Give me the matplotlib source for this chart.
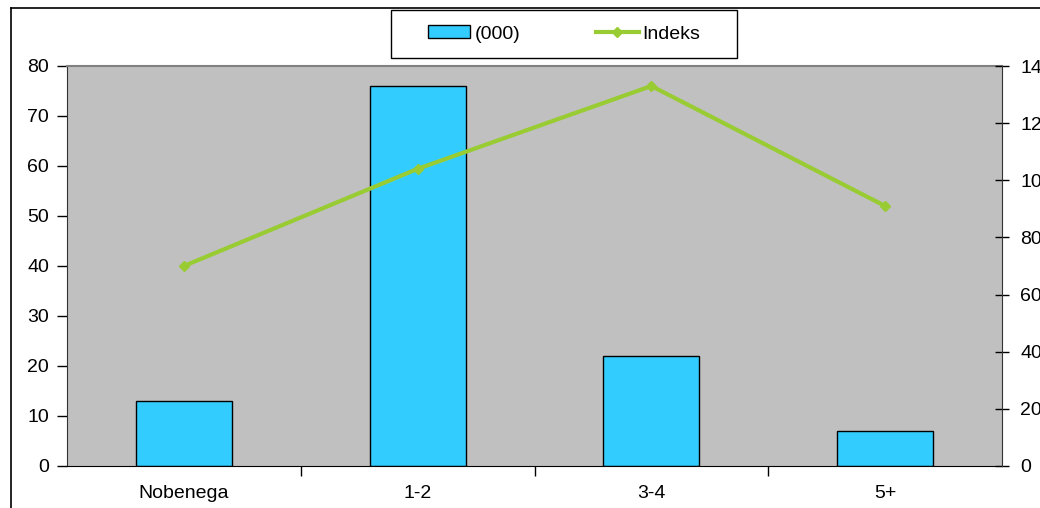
import matplotlib.pyplot as plt
from matplotlib.lines import Line2D
from matplotlib.patches import Rectangle

plt.rcParams['font.family'] = ['Liberation Sans', 'DejaVu Sans']

categories = ['Nobenega', '1-2', '3-4', '5+']
thousands = [13, 76, 22, 7]
indeks = [70, 104, 133, 91]

fig = plt.figure(figsize=(10.4, 5.08), dpi=100)

# outer chart frame (open to the right and bottom)
fig.add_artist(Line2D([11 / 1040, 11 / 1040], [0, 1 - 8 / 508], transform=fig.transFigure,
                      color='black', lw=1.2))
fig.add_artist(Line2D([11 / 1040, 1], [1 - 8 / 508, 1 - 8 / 508], transform=fig.transFigure,
                      color='black', lw=1.2))

ax = fig.add_axes([67 / 1040, 42 / 508, 935 / 1040, 400 / 508])
ax.set_facecolor('#c0c0c0')

x = range(len(categories))
ax.bar(x, thousands, width=0.41, color='#33ccff', edgecolor='black', lw=1, zorder=2,
       label='(000)')
ax.set_xlim(-0.5, len(categories) - 0.5)
ax.set_ylim(0, 80)
ax.set_yticks(range(0, 81, 10))
ax.set_xticks([0.5, 1.5, 2.5], minor=False)
ax.set_xticklabels([])
ax.set_xticks(list(x), minor=True)
ax.set_xticklabels(categories, minor=True)
ax.tick_params(axis='x', which='major', direction='out', length=7, width=1)
ax.tick_params(axis='x', which='minor', length=0, pad=14, labelsize=14)
ax.tick_params(axis='y', direction='out', length=7, width=1, labelsize=14, pad=6)

for side in ['top', 'right']:
    ax.spines[side].set_visible(False)
ax.spines['left'].set_color('#333333')
ax.spines['bottom'].set_color('black')
ax.plot([0, 1], [1, 1], transform=ax.transAxes, color='#808080', lw=1.5, zorder=3,
        clip_on=False)

ax2 = ax.twinx()
ax2.plot(list(x), indeks, color='#99cc33', lw=3, marker='D', ms=5, label='Indeks',
         zorder=4)
ax2.set_ylim(0, 140)
ax2.set_yticks(range(0, 141, 20))
ax2.tick_params(axis='y', direction='inout', length=10, width=1, labelsize=14, pad=8)
for side in ['top', 'left', 'bottom']:
    ax2.spines[side].set_visible(False)
ax2.spines['right'].set_color('#333333')

# legend box above the plot area
fig.add_artist(Rectangle((391 / 1040, 1 - 58 / 508), 346 / 1040, 48 / 508,
                         transform=fig.transFigure, facecolor='white',
                         edgecolor='black', lw=1))
h1, l1 = ax.get_legend_handles_labels()
h2, l2 = ax2.get_legend_handles_labels()
leg = fig.legend(h1 + h2, l1 + l2, loc='center', ncol=2,
                 bbox_to_anchor=(564 / 1040, 1 - 34 / 508), frameon=False,
                 fontsize=14, handlelength=2.2, handleheight=0.6,
                 columnspacing=3.9, handletextpad=0.2)

fig.savefig('out.png', dpi=100)
